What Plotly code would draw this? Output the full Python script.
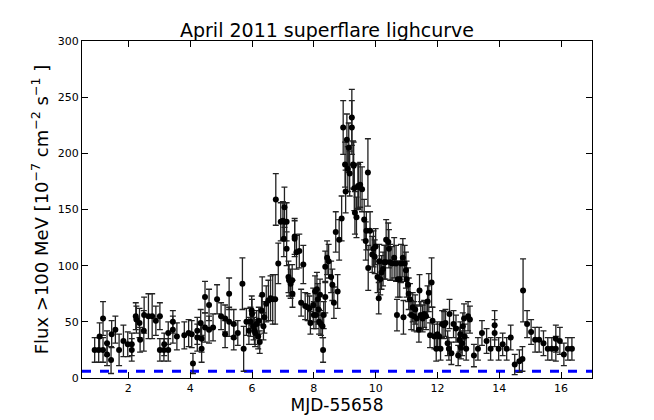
import plotly.graph_objects as go

# MJD-55658, flux (1e-7 cm^-2 s^-1), 1-sigma error
mjd = [0.91, 1.04, 1.07, 1.18, 1.18, 1.31, 1.31, 1.44, 1.46, 1.58, 1.70, 1.84, 1.98, 2.11, 2.11,
       2.24, 2.26, 2.36, 2.38, 2.50, 2.51, 2.65, 2.77, 2.89, 3.02, 3.02, 3.15, 3.16, 3.29, 3.29,
       3.44, 3.44, 3.57, 3.81, 3.95, 4.05, 4.09, 4.23, 4.23, 4.34, 4.37, 4.37, 4.48, 4.48, 4.61,
       4.61, 4.74, 4.87, 5.00, 5.13, 5.13, 5.26, 5.26, 5.41, 5.41, 5.54, 5.69, 5.73, 5.82, 5.90,
       5.95, 5.99, 6.00, 6.05, 6.08, 6.10, 6.15, 6.20, 6.22, 6.25, 6.31, 6.33, 6.37, 6.40, 6.46,
       6.53, 6.60, 6.67, 6.75, 6.77, 6.85, 6.93, 7.00, 7.03, 7.05, 7.05, 7.12, 7.12, 7.18, 7.20,
       7.25, 7.30, 7.31, 7.38, 7.38, 7.44, 7.53, 7.59, 7.66, 7.72, 7.80, 7.86, 7.89, 7.98, 8.00,
       8.04, 8.07, 8.10, 8.13, 8.15, 8.17, 8.20, 8.23, 8.28, 8.30, 8.32, 8.37, 8.37, 8.43, 8.48,
       8.56, 8.60, 8.65, 8.71, 8.77, 8.82, 8.90, 8.95, 9.01, 9.03, 9.07, 9.10, 9.13, 9.16, 9.23,
       9.23, 9.27, 9.29, 9.31, 9.33, 9.38, 9.43, 9.44, 9.50, 9.56, 9.63, 9.68, 9.70, 9.75, 9.76,
       9.82, 9.89, 9.93, 9.97, 10.00, 10.06, 10.10, 10.12, 10.15, 10.19, 10.24, 10.28, 10.32, 10.34, 10.41,
       10.43, 10.47, 10.53, 10.60, 10.66, 10.69, 10.72, 10.78, 10.82, 10.88, 10.90, 10.94, 10.98, 11.00, 11.05,
       11.07, 11.11, 11.15, 11.20, 11.24, 11.28, 11.33, 11.40, 11.42, 11.46, 11.52, 11.57, 11.63, 11.68, 11.72,
       11.76, 11.81, 11.84, 11.90, 11.96, 12.00, 12.06, 12.10, 12.15, 12.21, 12.26, 12.33, 12.37, 12.39, 12.45,
       12.52, 12.60, 12.67, 12.71, 12.74, 12.76, 12.80, 12.82, 12.86, 12.88, 12.93, 12.99, 13.05, 13.18, 13.31,
       13.44, 13.59, 13.72, 13.85, 13.85, 13.98, 14.11, 14.24, 14.37, 14.50, 14.65, 14.75, 14.77, 14.90, 15.03,
       15.16, 15.29, 15.43, 15.57, 15.70, 15.83, 15.83, 15.96, 16.09, 16.22, 16.35]
flux = [25, 25, 37, 53, 25, 31, 21, 16, 39, 43, 25, 33, 30, 30, 25,
        55, 52, 49, 34, 42, 56, 55, 55, 51, 55, 25, 25, 30, 40, 25,
        50, 43, 37, 38, 40, 39, 13, 42, 36, 49, 26, 35, 72, 45, 65,
        43, 45, 70, 55, 53, 39, 75, 50, 48, 36, 40, 84, 26, 50, 42,
        50, 60, 57, 46, 42, 40, 48, 37, 51, 32, 60, 74, 46, 54, 66,
        69, 71, 70, 70, 159, 102, 139, 140, 124, 152, 139, 139, 115, 90, 87,
        84, 87, 75, 126, 124, 112, 113, 67, 101, 64, 63, 62, 49, 65, 56,
        77, 56, 79, 70, 61, 50, 74, 48, 46, 25, 56, 99, 72, 107, 104,
        90, 83, 67, 130, 77, 123, 142, 223, 190, 166, 212, 186, 205, 182, 232,
        223, 190, 189, 169, 147, 143, 171, 170, 172, 168, 141, 122, 131, 183, 98,
        131, 110, 115, 108, 117, 90, 71, 104, 88, 94, 97, 103, 103, 123, 121,
        115, 103, 102, 107, 102, 56, 88, 88, 102, 107, 54, 102, 96, 88, 83,
        75, 70, 56, 63, 55, 61, 53, 43, 78, 56, 53, 57, 55, 68, 76,
        38, 85, 51, 37, 26, 39, 37, 26, 48, 47, 49, 31, 26, 57, 22,
        48, 44, 20, 34, 39, 27, 31, 46, 53, 37, 26, 55, 52, 20, 26,
        40, 33, 26, 47, 40, 26, 30, 26, 36, 12, 15, 17, 78, 48, 41,
        34, 34, 31, 26, 26, 35, 26, 33, 21, 26, 26]
flux_err = [11, 11, 12, 15, 11, 11, 10, 12, 12, 12, 14, 14, 11, 10, 10,
            12, 12, 13, 11, 18, 16, 20, 20, 13, 12, 10, 10, 10, 10, 10,
            10, 12, 12, 12, 12, 12, 9, 12, 12, 12, 12, 12, 14, 13, 14,
            12, 12, 13, 12, 12, 12, 14, 13, 13, 11, 11, 23, 20, 12, 12,
            13, 13, 13, 12, 12, 12, 12, 11, 12, 10, 13, 16, 12, 14, 16,
            18, 20, 22, 22, 23, 18, 17, 17, 16, 18, 17, 17, 15, 14, 14,
            13, 14, 12, 16, 16, 15, 15, 12, 17, 12, 12, 11, 10, 15, 12,
            14, 12, 15, 14, 13, 11, 14, 10, 10, 11, 12, 14, 14, 15, 15,
            14, 14, 14, 18, 15, 18, 20, 24, 20, 19, 23, 20, 22, 20, 25,
            24, 21, 21, 20, 19, 18, 20, 20, 20, 20, 18, 17, 17, 30, 20,
            17, 16, 16, 15, 16, 14, 14, 15, 14, 15, 15, 15, 15, 18, 17,
            17, 16, 15, 18, 16, 14, 16, 16, 17, 17, 15, 16, 16, 16, 15,
            14, 14, 13, 13, 13, 13, 12, 11, 14, 12, 12, 12, 12, 14, 17,
            11, 22, 12, 11, 11, 11, 11, 10, 12, 12, 12, 11, 10, 13, 10,
            12, 12, 9, 11, 11, 10, 11, 12, 13, 11, 10, 13, 12, 10, 10,
            11, 11, 10, 13, 12, 10, 10, 10, 11, 9, 10, 11, 28, 12, 11,
            11, 11, 11, 10, 10, 12, 11, 12, 10, 10, 10]

baseline = 6
x_range = [0.5, 17]
x_ticks = [2, 4, 6, 8, 10, 12, 14, 16]
y_ticks = [0, 50, 100, 150, 200, 250, 300]

fig = go.Figure()

fig.add_trace(go.Scatter(
    x=x_range, y=[baseline, baseline],
    mode='lines',
    line=dict(color='#0000ff', width=3, dash='dash'),
    hoverinfo='skip', showlegend=False
))

fig.add_trace(go.Scatter(
    x=mjd, y=flux,
    mode='markers',
    marker=dict(color='black', size=6),
    error_y=dict(type='data', array=flux_err, color='#222222', thickness=1.3, width=3),
    showlegend=False
))

axis_style = dict(
    showline=True, linecolor='black', linewidth=1, mirror='ticks',
    ticks='inside', ticklen=6, tickcolor='black',
    showgrid=False, zeroline=False, automargin=False,
    tickfont=dict(size=11, color='black')
)

fig.update_layout(
    width=654, height=420,
    margin=dict(l=82, r=62, t=41, b=42),
    paper_bgcolor='white', plot_bgcolor='white',
    font=dict(family='DejaVu Sans', color='black'),
    title=dict(text='April 2011 superflare lighcurve', x=0.5, xanchor='center',
               yref='container', y=1 - 30 / 420, yanchor='middle', font=dict(size=19)),
    xaxis=dict(range=x_range, tickvals=x_ticks,
               title=dict(text='MJD-55658', font=dict(size=17), standoff=4), **axis_style),
    yaxis=dict(range=[0, 300], tickvals=y_ticks,
               title=dict(text='Flux >100 MeV [10<sup>−7</sup> cm<sup>−2</sup> s<sup>−1</sup> ]',
                          font=dict(size=18), standoff=4), **axis_style),
)

# drop the default page margin so the figure sits at the window's corner
fig.write_html("out.html", config={'displayModeBar': False},
               post_script="document.body.style.margin='0';")
